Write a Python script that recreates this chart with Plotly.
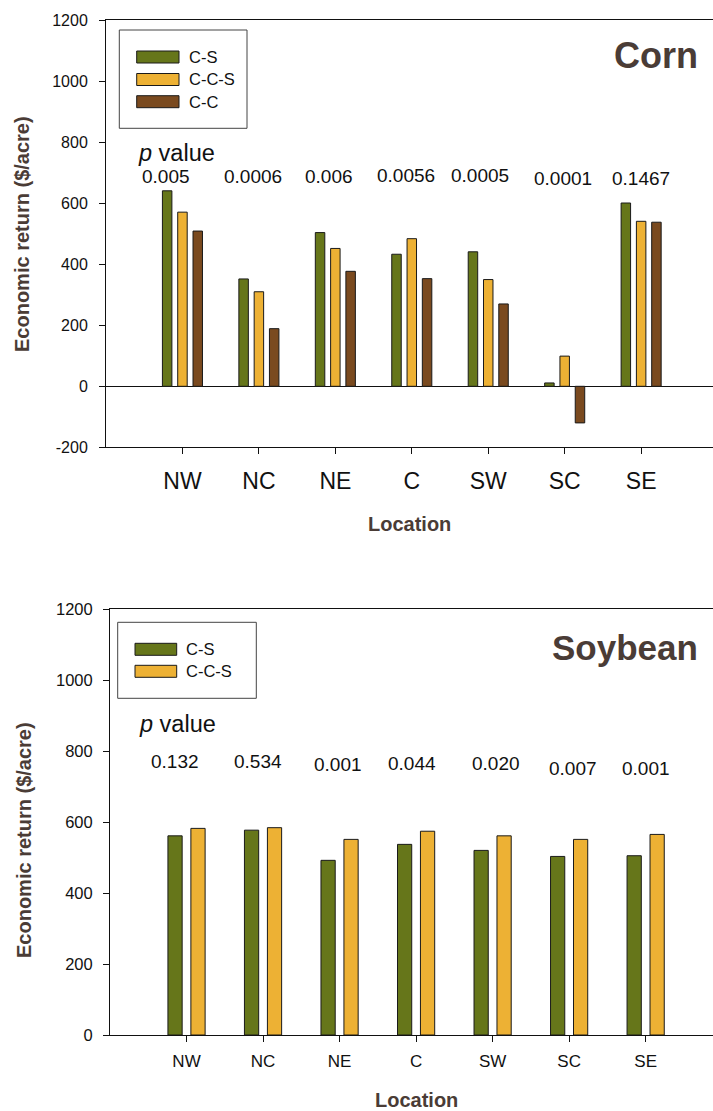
import plotly.graph_objects as go

# ---------------- data ----------------
locations = ["NW", "NC", "NE", "C", "SW", "SC", "SE"]

corn_series = ["C-S", "C-C-S", "C-C"]
corn_cs = [641, 352, 504, 433, 441, 11, 601]
corn_ccs = [571, 310, 452, 484, 350, 99, 541]
corn_cc = [509, 189, 377, 353, 270, -120, 538]
corn_p = ["0.005", "0.0006", "0.006", "0.0056", "0.0005", "0.0001", "0.1467"]

soy_series = ["C-S", "C-C-S"]
soy_cs = [561, 577, 492, 537, 520, 503, 505]
soy_ccs = [582, 584, 551, 574, 561, 551, 565]
soy_p = ["0.132", "0.534", "0.001", "0.044", "0.020", "0.007", "0.001"]

corn_yticks = [-200, 0, 200, 400, 600, 800, 1000, 1200]
corn_yticktext = ["-200", "0", "200", "400", "600", "800", "1000", "1200"]
soy_yticks = [0, 200, 400, 600, 800, 1000, 1200]

# ---------------- styles ----------------
W, H = 713, 1111
GREEN = "#66761A"
YELLOW = "#EDB134"
BROWN = "#7A4A1F"
TITLE_C = "#4A3C36"
FONT = "Liberation Sans, Arial, sans-serif"
colors = [GREEN, YELLOW, BROWN]


def px(xp):
    return xp / W


def py(yp):
    return 1 - yp / H


idx = list(range(len(locations)))
fig = go.Figure()

for name, vals, col in zip(corn_series, [corn_cs, corn_ccs, corn_cc], colors):
    fig.add_trace(go.Bar(x=idx, y=vals, name=name, xaxis="x", yaxis="y",
                         marker=dict(color=col, line=dict(color="#1a1a1a", width=1)),
                         showlegend=False))
for name, vals, col in zip(soy_series, [soy_cs, soy_ccs], colors):
    fig.add_trace(go.Bar(x=idx, y=vals, name=name, xaxis="x2", yaxis="y2",
                         marker=dict(color=col, line=dict(color="#1a1a1a", width=1)),
                         showlegend=False))


def axis(size, standoff, **kw):
    d = dict(showgrid=False, showline=True, linecolor="#111", linewidth=1,
             ticks="outside", ticklen=6, tickcolor="#111", tickwidth=1,
             tickfont=dict(family=FONT, color="#111", size=size),
             ticklabelstandoff=standoff, automargin=False)
    d.update(kw)
    return d


fig.update_layout(
    template="none",
    width=W, height=H,
    margin=dict(l=0, r=0, t=0, b=0, pad=0),
    paper_bgcolor="white", plot_bgcolor="white",
    barmode="group", bargap=0.4, bargroupgap=0.38,
    showlegend=False,
    xaxis=axis(23, 7, domain=[px(106), 1], range=[-1, 6.94], tickvals=idx, ticktext=locations,
               mirror=True, zeroline=False, anchor="y"),
    yaxis=axis(16, 8, domain=[py(447.3), py(20.3)], range=[-200, 1200], tickvals=corn_yticks,
               ticktext=corn_yticktext, zeroline=True, zerolinecolor="#111", zerolinewidth=1,
               anchor="x"),
    xaxis2=axis(17, 5, domain=[px(110), 1], range=[-1, 6.88], tickvals=idx, ticktext=locations,
                mirror=True, zeroline=False, anchor="y2"),
    yaxis2=axis(16.5, 7, domain=[py(1035), py(609)], range=[0, 1200], tickvals=soy_yticks,
                ticktext=[str(v) for v in soy_yticks], zeroline=False, anchor="x2"),
)

ann = []
shapes = []


def txt(text, x, y, size, color="#111", xanchor="center", angle=0, xref="paper", yref="paper"):
    if xref == "paper":
        x = px(x)
    if yref == "paper":
        y = py(y)
    ann.append(dict(text=text, x=x, y=y, xref=xref, yref=yref, xanchor=xanchor, yanchor="middle",
                    textangle=angle, showarrow=False, borderpad=0,
                    font=dict(family=FONT, size=size, color=color)))


# axis titles
txt("<b>Economic return ($/acre)</b>", 22, 234, 20, TITLE_C, angle=-90)
txt("<b>Economic return ($/acre)</b>", 24, 840, 20, TITLE_C, angle=-90)
txt("<b>Location</b>", 409, 524, 20, TITLE_C)
txt("<b>Location</b>", 416, 1100, 20, TITLE_C)

# crop titles
txt("<b>Corn</b>", 699, 55, 36, TITLE_C, xanchor="right")
txt("<b>Soybean</b>", 699, 647, 35, TITLE_C, xanchor="right")

# p value headers
txt("<i>p</i> value", -0.60, 764, 23.5, xanchor="left", xref="x", yref="y")
txt("<i>p</i> value", -0.63, 876, 23.5, xanchor="left", xref="x2", yref="y2")

corn_p_dx = [-0.22, -0.08, -0.08, -0.07, -0.11, -0.02, 0.0]
corn_p_y = [687, 689, 689, 691, 691, 681, 681]
for i, t in enumerate(corn_p):
    txt(t, i + corn_p_dx[i], corn_p_y[i], 19, xref="x", yref="y")

soy_p_dx = [-0.156, -0.06, -0.02, -0.05, 0.05, 0.055, 0.01]
soy_p_y = [771, 771, 762, 764, 764, 752, 752]
for i, t in enumerate(soy_p):
    txt(t, i + soy_p_dx[i], soy_p_y[i], 19, xref="x2", yref="y2")


# custom legends
def legend(box, sw_x, rows, names, cols):
    shapes.append(dict(type="rect", xref="paper", yref="paper",
                       x0=px(box[0]), x1=px(box[1]), y0=py(box[3]), y1=py(box[2]),
                       line=dict(color="#444", width=1), fillcolor="white"))
    for yc, n, c in zip(rows, names, cols):
        shapes.append(dict(type="rect", xref="paper", yref="paper",
                           x0=px(sw_x[0]), x1=px(sw_x[1]), y0=py(yc + 6), y1=py(yc - 6),
                           line=dict(color="#1a1a1a", width=1), fillcolor=c))
        txt(n, sw_x[2], yc, 16.5, xanchor="left")


legend((119.3, 247, 30, 128.3), (136.7, 179, 188), [57, 79.5, 101.7], corn_series, colors)
legend((117.7, 256.3, 622.3, 698.3), (135, 176.7, 185.5), [649.3, 671.3], soy_series, colors)

fig.update_layout(annotations=ann, shapes=shapes)
fig.write_html("out.html", config={"displayModeBar": False},
               post_script="document.body.style.margin='0';")
